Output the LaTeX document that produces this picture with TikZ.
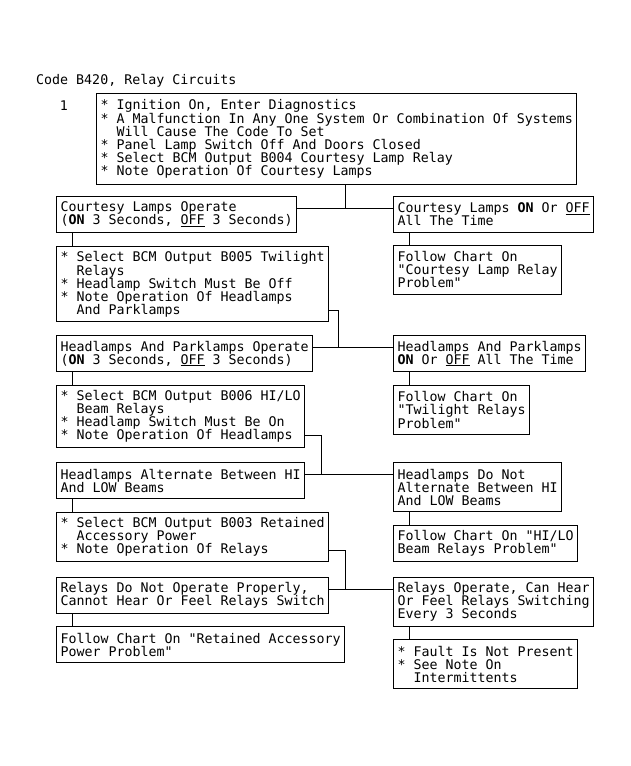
\documentclass[tikz,border=0pt]{standalone}
\usepackage{fontspec}
\usetikzlibrary{calc}
\newfontfamily\chartfont{DejaVu Sans Mono}[Ligatures=TeXOff]
\newcommand\contline{\hphantom{* }}

\begin{document}
\begin{tikzpicture}[
  x=1pt, y=-1pt,
  font=\chartfont\fontsize{13.3pt}{13pt}\selectfont,
  chartbox/.style={draw, anchor=north west, align=left, inner xsep=4pt,
                   inner ysep=0pt, line width=1pt},
  rows/.style    ={minimum height={13pt*#1+10pt}},
  wire/.style    ={draw, line width=1pt},
  caption/.style ={inner sep=0pt},
]
\useasboundingbox (0,0) rectangle (631,766);

% ---- the grid: two columns, left at 56, right at 393; every drop runs 16 in
\pgfmathsetmacro{\xl}{56}
\pgfmathsetmacro{\xr}{393}

% ============================================================ HEAD
\node[caption, anchor=base west] (title) at (36,84) {Code B420, Relay Circuits};
\node[caption, anchor=base] (stepno) at (64,110) {1};

\node[chartbox, minimum width=480pt, minimum height=91pt] (ign) at (96,93)
  {* Ignition On, Enter Diagnostics\\
   * A Malfunction In Any One System Or Combination Of Systems\\
   \contline Will Cause The Code To Set\\
   * Panel Lamp Switch Off And Doors Closed\\
   * Select BCM Output B004 Courtesy Lamp Relay\\
   * Note Operation Of Courtesy Lamps};

% ============================================================ COURTESY LAMPS
\node[chartbox, rows=2] (lampsOp) at (\xl,196)
  {Courtesy Lamps Operate\\(\textbf{ON} 3 Seconds, \underline{OFF} 3 Seconds)};
\node[chartbox, rows=2] (lampsStuck) at (\xr,196)
  {Courtesy Lamps \textbf{ON} Or \underline{OFF}\\All The Time};
\node[chartbox, rows=3] (lampsChart) at (\xr,245)
  {Follow Chart On\\"Courtesy Lamp Relay\\Problem"};

\coordinate (jA) at (345,208);
\draw[wire] (ign.south -| jA) -- (jA);
\draw[wire] ([yshift=-12pt]lampsOp.north east) -- ([yshift=-12pt]lampsStuck.north west);
\draw[wire] ([xshift=16pt]lampsStuck.south west) -- ([xshift=16pt]lampsChart.north west);

% ============================================================ TWILIGHT RELAYS
\node[chartbox, rows=5] (twlSel) at (\xl,246)
  {* Select BCM Output B005 Twilight\\
   \contline Relays\\
   * Headlamp Switch Must Be Off\\
   * Note Operation Of Headlamps\\
   \contline And Parklamps};
\node[chartbox, rows=2] (parkOp) at (\xl,335)
  {Headlamps And Parklamps Operate\\(\textbf{ON} 3 Seconds, \underline{OFF} 3 Seconds)};
\node[chartbox, rows=2] (parkStuck) at (\xr,335)
  {Headlamps And Parklamps\\\textbf{ON} Or \underline{OFF} All The Time};
\node[chartbox, rows=3] (twlChart) at (\xr,385)
  {Follow Chart On\\"Twilight Relays\\Problem"};

\draw[wire] ([xshift=16pt]lampsOp.south west) -- ([xshift=16pt]twlSel.north west);
\coordinate (jB) at (338,347);
\draw[wire] ([yshift=12pt]twlSel.south east) -| (jB);
\draw[wire] ([yshift=-12pt]parkOp.north east) -- ([yshift=-12pt]parkStuck.north west);
\draw[wire] ([xshift=16pt]parkStuck.south west) -- ([xshift=16pt]twlChart.north west);

% ============================================================ HI/LO BEAM RELAYS
\node[chartbox, rows=4] (beamSel) at (\xl,385)
  {* Select BCM Output B006 HI/LO\\
   \contline Beam Relays\\
   * Headlamp Switch Must Be On\\
   * Note Operation Of Headlamps};
\node[chartbox, rows=2] (beamAlt) at (\xl,462)
  {Headlamps Alternate Between HI\\And LOW Beams};
\node[chartbox, rows=3] (beamNoAlt) at (\xr,462)
  {Headlamps Do Not\\Alternate Between HI\\And LOW Beams};
\node[chartbox, rows=2] (beamChart) at (\xr,525)
  {Follow Chart On "HI/LO\\Beam Relays Problem"};

\draw[wire] ([xshift=16pt]parkOp.south west) -- ([xshift=16pt]beamSel.north west);
\coordinate (jC) at (321,474);
\draw[wire] ([yshift=13pt]beamSel.south east) -| (jC);
\draw[wire] ([yshift=-12pt]beamAlt.north east) -- ([yshift=-12pt]beamNoAlt.north west);
\draw[wire] ([xshift=16pt]beamNoAlt.south west) -- ([xshift=16pt]beamChart.north west);

% ============================================================ RETAINED ACCESSORY POWER
\node[chartbox, rows=3] (rapSel) at (\xl,512)
  {* Select BCM Output B003 Retained\\
   \contline Accessory Power\\
   * Note Operation Of Relays};
\node[chartbox, rows=2] (rapFail) at (\xl,577)
  {Relays Do Not Operate Properly,\\Cannot Hear Or Feel Relays Switch};
\node[chartbox, rows=3] (rapOk) at (\xr,577)
  {Relays Operate, Can Hear\\Or Feel Relays Switching\\Every 3 Seconds};
\node[chartbox, rows=2] (rapChart) at (\xl,626)
  {Follow Chart On "Retained Accessory\\Power Problem"};
\node[chartbox, rows=3] (faultNone) at (\xr,639)
  {* Fault Is Not Present\\
   * See Note On\\
   \contline Intermittents};

\draw[wire] ([xshift=16pt]beamAlt.south west) -- ([xshift=16pt]rapSel.north west);
\coordinate (jD) at (345,589);
\draw[wire] ([yshift=12pt]rapSel.south east) -| (jD);
\draw[wire] ([yshift=-12pt]rapFail.north east) -- ([yshift=-12pt]rapOk.north west);
\draw[wire] ([xshift=16pt]rapFail.south west) -- ([xshift=16pt]rapChart.north west);
\draw[wire] ([xshift=16pt]rapOk.south west) -- ([xshift=16pt]faultNone.north west);

\end{tikzpicture}
\end{document}
